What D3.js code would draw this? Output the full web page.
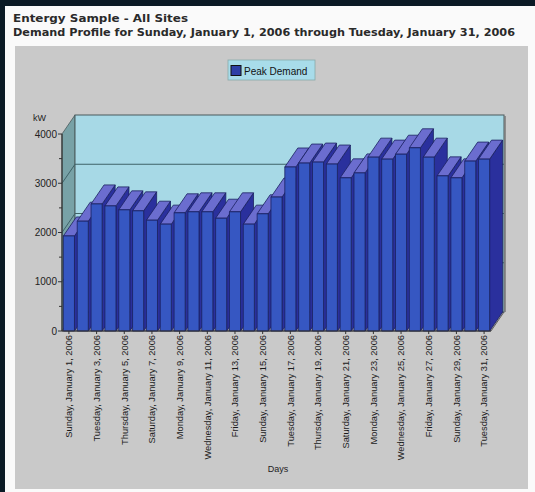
<!DOCTYPE html>
<html>
<head>
<meta charset="utf-8">
<script src="https://cdn.jsdelivr.net/npm/d3@7"></script>
<style>
  body { margin: 0; background: #0b1a25; }
  svg { display: block; }
</style>
</head>
<body>
<svg id="chart" width="535" height="492"></svg>
<script>
// day labels (x categories)
const days = [
  "Sunday, January 1, 2006", "Monday, January 2, 2006", "Tuesday, January 3, 2006",
  "Wednesday, January 4, 2006", "Thursday, January 5, 2006", "Friday, January 6, 2006",
  "Saturday, January 7, 2006", "Sunday, January 8, 2006", "Monday, January 9, 2006",
  "Tuesday, January 10, 2006", "Wednesday, January 11, 2006", "Thursday, January 12, 2006",
  "Friday, January 13, 2006", "Saturday, January 14, 2006", "Sunday, January 15, 2006",
  "Monday, January 16, 2006", "Tuesday, January 17, 2006", "Wednesday, January 18, 2006",
  "Thursday, January 19, 2006", "Friday, January 20, 2006", "Saturday, January 21, 2006",
  "Sunday, January 22, 2006", "Monday, January 23, 2006", "Tuesday, January 24, 2006",
  "Wednesday, January 25, 2006", "Thursday, January 26, 2006", "Friday, January 27, 2006",
  "Saturday, January 28, 2006", "Sunday, January 29, 2006", "Monday, January 30, 2006",
  "Tuesday, January 31, 2006"
];

// peak demand, kW
const peakDemand = [
  1930, 2230, 2580, 2540, 2460, 2440, 2250, 2170, 2400, 2420,
  2420, 2290, 2420, 2170, 2380, 2720, 3330, 3410, 3430, 3390,
  3110, 3210, 3530, 3490, 3590, 3720, 3530, 3150, 3110, 3450,
  3490
];

const yTicks = [0, 1000, 2000, 3000, 4000];
const yMinorTicks = [500, 1500, 2500, 3500];

const svg = d3.select("#chart");

// white panel and grey chart area
svg.append("rect").attr("x", 5).attr("y", 6).attr("width", 530).attr("height", 486).attr("fill", "#fafafa");
svg.append("rect").attr("x", 15).attr("y", 46).attr("width", 513).attr("height", 443).attr("fill", "#c9c9c9");

// titles
svg.append("text").attr("x", 13).attr("y", 22)
  .attr("textLength", 175).attr("lengthAdjust", "spacingAndGlyphs")
  .style("font", "bold 11px 'DejaVu Sans', Verdana, sans-serif").attr("fill", "#2a2a2a")
  .text("Entergy Sample - All Sites");
svg.append("text").attr("x", 13).attr("y", 36)
  .attr("textLength", 502).attr("lengthAdjust", "spacingAndGlyphs")
  .style("font", "bold 11px 'DejaVu Sans', Verdana, sans-serif").attr("fill", "#2a2a2a")
  .text("Demand Profile for Sunday, January 1, 2006 through Tuesday, January 31, 2006");

// scales
const x = d3.scaleBand().domain(days).range([62, 491]).paddingInner(0.2).paddingOuter(0.1);
const y = d3.scaleLinear().domain([0, 4000]).range([331, 134]);
const DX = 13, DY = -19;
const x0 = 62, x1 = 491;

// left wall
svg.append("path")
  .attr("d", `M${x0},${y(4000)}L${x0 + DX},${y(4000) + DY}L${x0 + DX},${y(0) + DY}L${x0},${y(0)}Z`)
  .attr("fill", "#78a2a7").attr("stroke", "#4a5a5c").attr("stroke-width", 0.8);

// floor
svg.append("path")
  .attr("d", `M${x0},${y(0)}L${x1},${y(0)}L${x1 + DX},${y(0) + DY}L${x0 + DX},${y(0) + DY}Z`)
  .attr("fill", "#a9a9a9").attr("stroke", "#4a4a4a").attr("stroke-width", 0.8);

// back wall
svg.append("rect")
  .attr("x", x0 + DX).attr("y", y(4000) + DY)
  .attr("width", x1 - x0).attr("height", y(0) - y(4000))
  .attr("fill", "#a7d9e6").attr("stroke", "#4a5a5c").attr("stroke-width", 1);
svg.append("line")
  .attr("x1", x1 + DX + 1).attr("x2", x1 + DX + 1)
  .attr("y1", y(4000) + DY + 1).attr("y2", y(0) + DY)
  .attr("stroke", "#777").attr("stroke-width", 1.5);

// grid lines on walls
yTicks.filter(v => v > 0 && v < 4000).forEach(function(v) {
  svg.append("path")
    .attr("d", `M${x0},${y(v)}L${x0 + DX},${y(v) + DY}L${x1 + DX},${y(v) + DY}`)
    .attr("fill", "none").attr("stroke", "#3f6368").attr("stroke-width", 1);
});

// bars, left to right so the neighbour hides the side face
const bw = x.bandwidth();
const bars = svg.append("g");
days.forEach(function(d, i) {
  const bx = x(d), by = y(peakDemand[i]), b0 = y(0);
  const g = bars.append("g").attr("stroke", "#1b2160").attr("stroke-width", 0.8).attr("stroke-linejoin", "round");
  // side
  g.append("path")
    .attr("d", `M${bx + bw},${by}L${bx + bw + DX},${by + DY}L${bx + bw + DX},${b0 + DY}L${bx + bw},${b0}Z`)
    .attr("fill", "#2a309d");
  // top
  g.append("path")
    .attr("d", `M${bx},${by}L${bx + DX},${by + DY}L${bx + bw + DX},${by + DY}L${bx + bw},${by}Z`)
    .attr("fill", "#6b6dcf");
  // front
  g.append("rect")
    .attr("x", bx).attr("y", by).attr("width", bw).attr("height", b0 - by)
    .attr("fill", "#3657c2");
});

// y axis
svg.append("line").attr("x1", x0).attr("x2", x0).attr("y1", y(4000)).attr("y2", y(0))
  .attr("stroke", "#333").attr("stroke-width", 1.2);
yMinorTicks.forEach(function(v) {
  svg.append("line").attr("x1", x0 - 3).attr("x2", x0).attr("y1", y(v)).attr("y2", y(v))
    .attr("stroke", "#333");
});
yTicks.forEach(function(v) {
  svg.append("line").attr("x1", x0 - 4).attr("x2", x0).attr("y1", y(v)).attr("y2", y(v))
    .attr("stroke", "#333");
  svg.append("text").attr("x", x0 - 5).attr("y", y(v) + 3.5)
    .attr("text-anchor", "end")
    .style("font", "10px 'Liberation Sans', Arial, sans-serif").attr("fill", "#222")
    .text(v);
});
svg.append("text").attr("x", 33).attr("y", 121)
  .style("font", "9px 'Liberation Sans', Arial, sans-serif").attr("fill", "#222")
  .text("kW");

// x axis labels, every other day
svg.append("line").attr("x1", x0).attr("x2", x1).attr("y1", y(0)).attr("y2", y(0))
  .attr("stroke", "#333");
days.forEach(function(d, i) {
  if (i % 2 !== 0) return;
  const cx = x(d) + bw / 2;
  svg.append("line").attr("x1", cx).attr("x2", cx).attr("y1", y(0)).attr("y2", y(0) + 3)
    .attr("stroke", "#333");
  svg.append("text")
    .attr("transform", `translate(${cx + 3.3},${y(0) + 4}) rotate(-90)`)
    .attr("text-anchor", "end")
    .style("font", "9.3px 'Liberation Sans', Arial, sans-serif").attr("fill", "#1a1a1a")
    .text(d);
});
svg.append("text").attr("x", 278).attr("y", 472).attr("text-anchor", "middle")
  .style("font", "9px 'Liberation Sans', Arial, sans-serif").attr("fill", "#222")
  .text("Days");

// legend
const legend = svg.append("g");
legend.append("rect").attr("x", 228).attr("y", 60).attr("width", 87).attr("height", 20)
  .attr("fill", "#a8dcea").attr("stroke", "#8aa").attr("stroke-width", 0.8);
legend.append("rect").attr("x", 231).attr("y", 65.5).attr("width", 10).attr("height", 10)
  .attr("fill", "#2e3fa6").attr("stroke", "#111").attr("stroke-width", 1);
legend.append("text").attr("x", 244).attr("y", 74.5)
  .style("font", "10px 'Liberation Sans', Arial, sans-serif").attr("fill", "#111")
  .text("Peak Demand");
</script>
</body>
</html>
